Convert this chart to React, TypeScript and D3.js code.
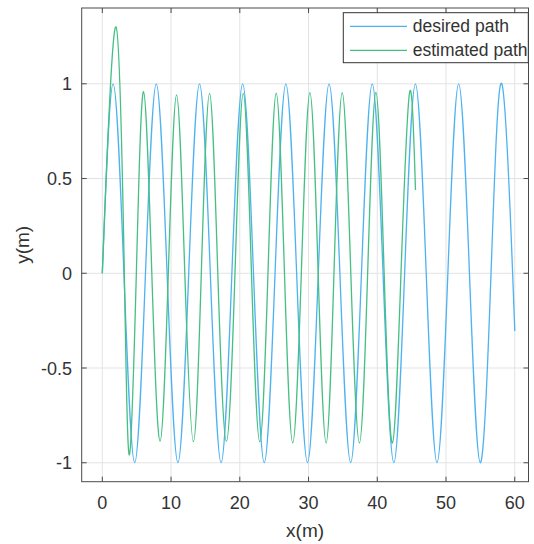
import React from "react";
import * as d3 from "d3";

// desired path: read extremes / zero crossings
const desiredX = [0, 1.57, 3.14, 4.71, 6.28, 7.85, 9.42, 11.0, 12.57, 14.14, 15.71, 17.28, 18.85, 20.42, 21.99, 23.56, 25.13, 26.7, 28.27, 29.85, 31.42, 32.99, 34.56, 36.13, 37.7, 39.27, 40.84, 42.41, 43.98, 45.55, 47.12, 48.69, 50.27, 51.84, 53.41, 54.98, 56.55, 58.12, 59.69, 60];
const desiredY = [0, 1, 0, -1, 0, 1, 0, -1, 0, 1, 0, -1, 0, 1, 0, -1, 0, 1, 0, -1, 0, 1, 0, -1, 0, 1, 0, -1, 0, 1, 0, -1, 0, 1, 0, -1, 0, 1, 0, -0.3];

// estimated path: read extremes / zero crossings
const estimatedX = [0, 2.0, 3.2, 3.95, 4.95, 6.0, 7.2, 8.4, 9.6, 10.8, 12.0, 13.25, 14.4, 15.6, 16.8, 18.05, 19.3, 20.5, 21.7, 22.9, 24.1, 25.3, 26.5, 27.7, 28.95, 30.2, 31.4, 32.56, 33.7, 34.9, 36.15, 37.4, 38.6, 39.8, 41.0, 42.2, 43.45, 44.7, 45.56];
const estimatedY = [0, 1.3, 0, -0.958, 0, 0.958, 0, -0.886, 0, 0.942, 0, -0.889, 0, 0.949, 0, -0.887, 0, 0.949, 0, -0.889, 0, 0.95, 0, -0.895, 0, 0.953, 0, -0.896, 0, 0.953, 0, -0.896, 0, 0.954, 0, -0.896, 0, 0.954, 0.44];

const xTicks = [0, 10, 20, 30, 40, 50, 60];
const yTicks = [-1, -0.5, 0, 0.5, 1];
const seriesNames = ["desired path", "estimated path"];
const seriesColors = ["#4DB2F2", "#45BF82"];

const W = 534;
const H = 544;
const L = 81.7, R = 528.5, T = 8, B = 481.7;
const FONT = "'Liberation Sans', Arial, Helvetica, sans-serif";

export default function App() {
  const x = d3.scaleLinear().domain([-3, 62]).range([L, R]);
  const y = d3.scaleLinear().domain([-1.1, 1.4]).range([B, T]);
  const line = d3
    .line<[number, number]>()
    .x((d) => x(d[0]))
    .y((d) => y(d[1]))
    .curve(d3.curveNatural);

  const desired: [number, number][] = desiredX.map((v, i) => [v, desiredY[i]]);
  const estimated: [number, number][] = estimatedX.map((v, i) => [v, estimatedY[i]]);

  const axisColor = "#4a4a4a";
  const textColor = "#333";
  const tickLen = 5;

  return (
    <svg
      width={W}
      height={H}
      style={{ position: "absolute", left: 0, top: 0, background: "#fff" }}
      fontFamily={FONT}
    >
      <rect x={0} y={0} width={W} height={H} fill="#fff" />
      {/* grid */}
      {xTicks.map((t) => (
        <line key={"gx" + t} x1={x(t)} x2={x(t)} y1={T} y2={B} stroke="#e3e3e3" strokeWidth={1} />
      ))}
      {yTicks.map((t) => (
        <line key={"gy" + t} x1={L} x2={R} y1={y(t)} y2={y(t)} stroke="#e3e3e3" strokeWidth={1} />
      ))}
      {/* series */}
      <path d={line(desired) || ""} fill="none" stroke={seriesColors[0]} strokeWidth={1.3} />
      <path d={line(estimated) || ""} fill="none" stroke={seriesColors[1]} strokeWidth={1.3} />
      {/* frame */}
      <rect x={L} y={T} width={R - L} height={B - T} fill="none" stroke={axisColor} strokeWidth={1} />
      {/* ticks */}
      {xTicks.map((t) => (
        <g key={"tx" + t}>
          <line x1={x(t)} x2={x(t)} y1={B} y2={B - tickLen} stroke={axisColor} />
          <line x1={x(t)} x2={x(t)} y1={T} y2={T + tickLen} stroke={axisColor} />
          <text x={x(t)} y={509} textAnchor="middle" fontSize={18} fill={textColor}>
            {t}
          </text>
        </g>
      ))}
      {yTicks.map((t) => (
        <g key={"ty" + t}>
          <line x1={L} x2={L + tickLen} y1={y(t)} y2={y(t)} stroke={axisColor} />
          <line x1={R} x2={R - tickLen} y1={y(t)} y2={y(t)} stroke={axisColor} />
          <text x={72} y={y(t) + 6.5} textAnchor="end" fontSize={18} fill={textColor}>
            {t}
          </text>
        </g>
      ))}
      {/* axis labels */}
      <text x={(L + R) / 2} y={537} textAnchor="middle" fontSize={19} fill={textColor}>
        x(m)
      </text>
      <text
        transform={`translate(29,${(T + B) / 2}) rotate(-90)`}
        textAnchor="middle"
        fontSize={19}
        fill={textColor}
      >
        y(m)
      </text>
      {/* legend */}
      <rect x={343.3} y={12.7} width={185} height={50} fill="#fff" stroke="#333" strokeWidth={1} />
      {seriesNames.map((n, i) => (
        <g key={n}>
          <line x1={350} x2={407} y1={26.3 + i * 24} y2={26.3 + i * 24} stroke={seriesColors[i]} strokeWidth={1.3} />
          <text x={412.7} y={26.3 + i * 24} dominantBaseline="central" fontSize={17.5} fill={textColor}>
            {n}
          </text>
        </g>
      ))}
    </svg>
  );
}
